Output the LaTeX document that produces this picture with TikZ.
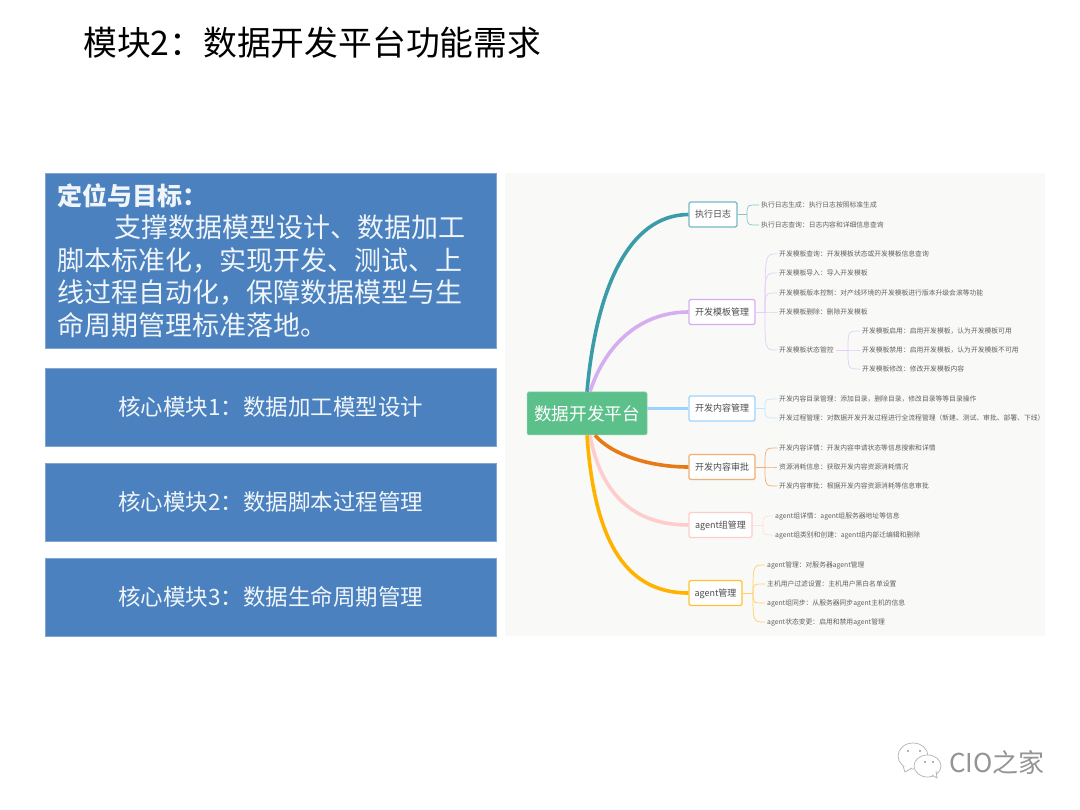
\documentclass[tikz,border=0pt]{standalone}
\usepackage{fontspec}
\setmainfont{Noto Sans CJK SC}
\newcommand\cnc{\symbol{"FF1A}}
\newcommand\cnd{\symbol{"FF0C}}
\newcommand\cnl{\symbol{"FF08}}
\newcommand\cnr{\symbol{"FF09}}
\definecolor{panelblue}{HTML}{4A81BE}
\definecolor{mapbg}{HTML}{F9F9F7}
\definecolor{rootgreen}{HTML}{5CC08A}
\definecolor{tealline}{HTML}{3A9CA8}
\definecolor{purpleline}{HTML}{D6AEF0}
\definecolor{blueline}{HTML}{9DD3FF}
\definecolor{orangeline}{HTML}{E87A16}
\definecolor{pinkline}{HTML}{FFCCCC}
\definecolor{yellowline}{HTML}{FFB300}
\tikzset{
  panel/.style={text height=19.8pt,text depth=2.7pt,fill=panelblue,draw=panelblue!70!white,line width=0.5pt,minimum width=451pt,inner sep=0pt,text=white!92!panelblue,font=\fontsize{22.5}{28}\selectfont},
  branchbox/.style={text height=7.9pt,text depth=1.1pt,draw=#1,fill=white,line width=1.1pt,rounded corners=1.5pt,inner sep=0pt,minimum height=25pt,text=black!70,font=\fontsize{9}{11}\selectfont},
  leaf/.style={text height=6pt,text depth=0.8pt,anchor=west,inner xsep=2pt,inner ysep=0pt,text=black!62,font=\fontsize{6.8}{8}\selectfont},
  branch/.style={draw=#1,line width=3.6pt},
  twig/.style={draw=#1!60!white,line width=0.7pt},
  bubble/.style={draw=black!30,line width=0.7pt,fill=white},
}
\begin{document}
\begin{tikzpicture}[x=1pt,y=-1pt]
  \useasboundingbox (0,0) rectangle (1080,810);
  \node[anchor=west,inner sep=0pt,font=\fontsize{33.8}{40}\selectfont] (title) at (83,43) {模块2\cnc{}数据开发平台功能需求};
  % left column
  \node[panel,anchor=north west,minimum height=175pt] (goal) at (45,173) {};
  \node[anchor=north west,inner sep=0pt,align=left,text=white!92!panelblue,font=\fontsize{27}{32.5}\selectfont] (goaltext) at (57,183)
    {{\bfseries\fontsize{25}{32.5}\selectfont 定位与目标\cnc}\\
     \hspace{57pt}支撑数据模型设计、数据加工\\
     脚本标准化\cnd{}实现开发、测试、上\\
     线过程自动化\cnd{}保障数据模型与生\\
     命周期管理标准落地。};
  \node[panel,anchor=north west,minimum height=78pt] (core1) at (45,368) {核心模块1\cnc{}数据加工模型设计};
  \node[panel,anchor=north west,minimum height=78pt] (core2) at (45,463) {核心模块2\cnc{}数据脚本过程管理};
  \node[panel,anchor=north west,minimum height=78pt] (core3) at (45,558) {核心模块3\cnc{}数据生命周期管理};
  % mind map
  \fill[mapbg] (505,173) rectangle (1045,636);
  \node[text height=15.5pt,text depth=2.1pt,fill=rootgreen,draw=rootgreen!70!white,line width=0.5pt,rounded corners=1.5pt,minimum width=120pt,minimum height=43pt,inner sep=0pt,text=white,font=\fontsize{17.6}{20}\selectfont] (root) at (587,413.5) {数据开发平台};
  \node[branchbox=tealline!70!white,minimum width=48pt] (logs) at (713,214.5) {执行日志};
  \node[branchbox=purpleline,minimum width=66pt] (tmpl) at (722,312) {开发模板管理};
  \node[branchbox=blueline,minimum width=66pt] (cont) at (722,408.5) {开发内容管理};
  \node[branchbox=orangeline!60!white,minimum width=66pt] (appr) at (722,467) {开发内容审批};
  \node[branchbox=pinkline,minimum width=63pt] (grp) at (720.5,525) {agent组管理};
  \node[branchbox=yellowline!80!white,minimum width=53pt] (agt) at (715.5,593) {agent管理};
  \draw[branch=tealline] (root.north) .. controls (596,290) and (628,215) .. (logs.west);
  \draw[branch=purpleline] ([xshift=3pt]root.north) .. controls (605,345) and (640,312) .. (tmpl.west);
  \draw[branch=blueline] (root.east |- cont.west) -- (cont.west);
  \draw[branch=orangeline] ([xshift=8pt]root.south) .. controls (612,455) and (650,467) .. (appr.west);
  \draw[branch=pinkline] ([xshift=3pt]root.south) .. controls (600,490) and (630,525) .. (grp.west);
  \draw[branch=yellowline] (root.south) .. controls (594,535) and (622,593) .. (agt.west);
  % leaves
  \node[leaf] (l1) at (759,205) {执行日志生成\cnc{}执行日志按照标准生成};
  \node[leaf] (l2) at (759,225) {执行日志查询\cnc{}日志内容和详细信息查询};
  \node[leaf] (t1) at (777,254) {开发模板查询\cnc{}开发模板状态或开发模板信息查询};
  \node[leaf] (t2) at (777,273) {开发模板导入\cnc{}导入开发模板};
  \node[leaf] (t3) at (777,293) {开发模板版本控制\cnc{}对产线环境的开发模板进行版本升级会滚等功能};
  \node[leaf] (t4) at (777,312) {开发模板删除\cnc{}删除开发模板};
  \node[leaf] (t5) at (777,350) {开发模板状态管控};
  \node[leaf] (s1) at (860,331) {开发模板启用\cnc{}启用开发模板\cnd{}认为开发模板可用};
  \node[leaf] (s2) at (860,350) {开发模板禁用\cnc{}启用开发模板\cnd{}认为开发模板不可用};
  \node[leaf] (s3) at (860,369) {开发模板修改\cnc{}修改开发模板内容};
  \node[leaf] (c1) at (777,399) {开发内容目录管理\cnc{}添加目录\cnd{}删除目录\cnd{}修改目录等等目录操作};
  \node[leaf] (c2) at (777,418) {开发过程管理\cnc{}对数据开发开发过程进行全流程管理\cnl{}新建、测试、审批、部署、下线\cnr};
  \node[leaf] (a1) at (777,448) {开发内容详情\cnc{}开发内容申请状态等信息搜索和详情};
  \node[leaf] (a2) at (777,467) {资源消耗信息\cnc{}获取开发内容资源消耗情况};
  \node[leaf] (a3) at (777,486) {开发内容审批\cnc{}根据开发内容资源消耗等信息审批};
  \node[leaf] (g1) at (773,516) {agent组详情\cnc{}agent组服务器地址等信息};
  \node[leaf] (g2) at (773,535) {agent组类别和创建\cnc{}agent组内部迁编辑和删除};
  \node[leaf] (m1) at (765,565) {agent管理\cnc{}对服务器agent管理};
  \node[leaf] (m2) at (765,584) {主机用户过滤设置\cnc{}主机用户黑白名单设置};
  \node[leaf] (m3) at (765,603) {agent组同步\cnc{}从服务器同步agent主机的信息};
  \node[leaf] (m4) at (765,622) {agent状态变更\cnc{}启用和禁用agent管理};
  % twigs
  \coordinate (jl) at (747,214.5);
  \coordinate (jt) at (765,312);
  \coordinate (js) at (848,350);
  \coordinate (jc) at (765,408.5);
  \coordinate (ja) at (765,467);
  \coordinate (jg) at (763,525);
  \coordinate (jm) at (753,593);
  \draw[twig=tealline] (logs.east) -- (jl);
  \foreach \n in {l1,l2} \draw[twig=tealline] (jl) .. controls (jl |- \n.west) .. (\n.west);
  \draw[twig=purpleline] (tmpl.east) -- (jt);
  \foreach \n in {t1,t2,t3,t4,t5} \draw[twig=purpleline] (jt) .. controls (jt |- \n.west) .. (\n.west);
  \draw[twig=purpleline] (t5.east) -- (js);
  \foreach \n in {s1,s2,s3} \draw[twig=purpleline] (js) .. controls (js |- \n.west) .. (\n.west);
  \draw[twig=blueline] (cont.east) -- (jc);
  \foreach \n in {c1,c2} \draw[twig=blueline] (jc) .. controls (jc |- \n.west) .. (\n.west);
  \draw[twig=orangeline] (appr.east) -- (ja);
  \foreach \n in {a1,a2,a3} \draw[twig=orangeline] (ja) .. controls (ja |- \n.west) .. (\n.west);
  \draw[twig=pinkline] (grp.east) -- (jg);
  \foreach \n in {g1,g2} \draw[twig=pinkline] (jg) .. controls (jg |- \n.west) .. (\n.west);
  \draw[twig=yellowline] (agt.east) -- (jm);
  \foreach \n in {m1,m2,m3,m4} \draw[twig=yellowline] (jm) .. controls (jm |- \n.west) .. (\n.west);
  % watermark
  \node[anchor=west,inner sep=0pt,text=black!42,font=\fontsize{26}{30}\selectfont] (mark) at (949,763) {CIO之家};
  \draw[bubble] (913,756) ellipse (15 and 13);
  \draw[bubble] (903,766) -- (905,772) -- (912,768);
  \draw[bubble] (927.5,766) ellipse (13.5 and 11);
  \draw[bubble] (932,775) -- (937,778) -- (936,771);
  \foreach \p/\q in {908/751,920/751,925/762,933/762} \fill[black!40] (\p,\q) circle (1.2);
\end{tikzpicture}
\end{document}
